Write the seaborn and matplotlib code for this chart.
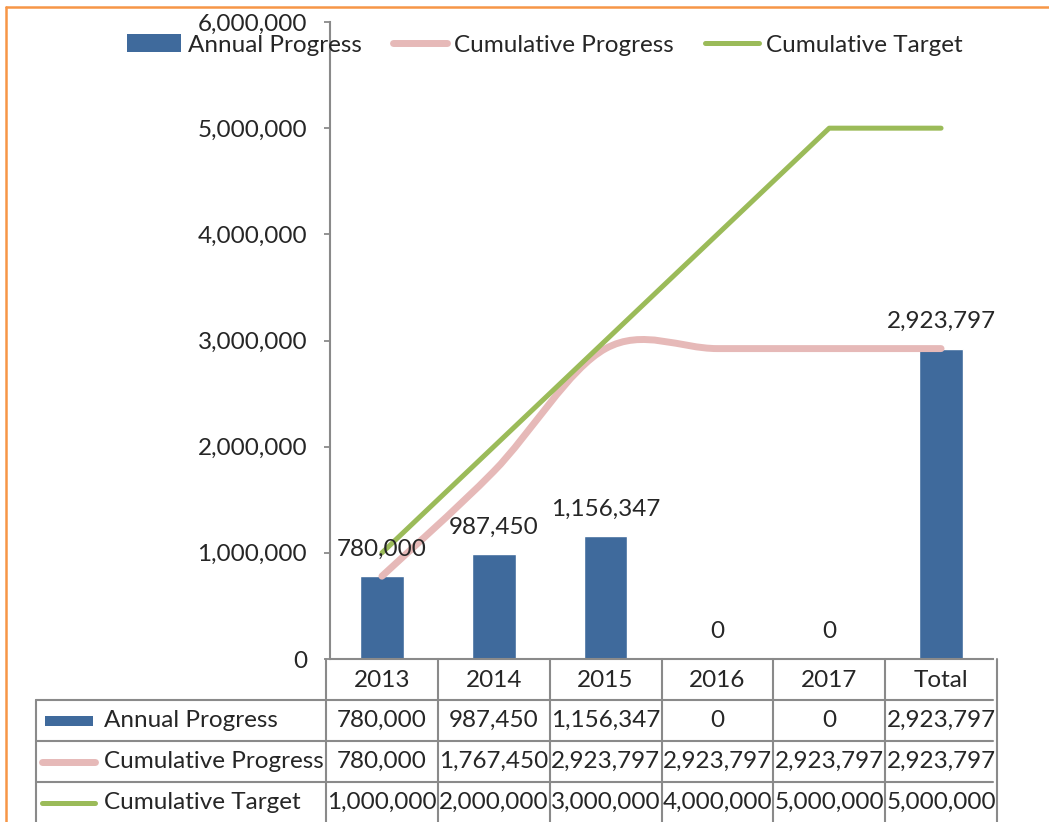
import matplotlib

matplotlib.use("Agg")
import matplotlib.pyplot as plt
import matplotlib.transforms as mtransforms
import numpy as np
import pandas as pd
import seaborn as sns
from matplotlib.lines import Line2D
from matplotlib.patches import Patch, PathPatch, Rectangle
from matplotlib.path import Path
from matplotlib.ticker import FuncFormatter

# данные графика
categories = ["2013", "2014", "2015", "2016", "2017", "Total"]
annual_progress = [780000, 987450, 1156347, 0, 0, 2923797]
cumulative_progress = [780000, 1767450, 2923797, 2923797, 2923797, 2923797]
cumulative_target = [1000000, 2000000, 3000000, 4000000, 5000000, 5000000]
series_names = ["Annual Progress", "Cumulative Progress", "Cumulative Target"]
y_ticks = [0, 1000000, 2000000, 3000000, 4000000, 5000000, 6000000]

BAR_COLOR = "#3F6A9C"
PINK = "#E6B9B8"
GREEN = "#9BBB59"
GRID_GRAY = "#8A8A8A"
FRAME_ORANGE = "#F79646"
W, H = 1049, 822
FONT_SIZE = 17.5

sns.set_theme(style="white")
plt.rcParams["font.family"] = ["Lato", "DejaVu Sans"]
plt.rcParams["font.size"] = FONT_SIZE


def smooth_path(xs, ys):
    # сглаживание как в Excel: кривые Безье через точки
    pts = np.column_stack([xs, ys]).astype(float)
    ext = np.vstack([pts[0], pts, pts[-1]])
    verts = [pts[0]]
    codes = [Path.MOVETO]
    for i in range(len(pts) - 1):
        p0, p1, p2, p3 = ext[i], ext[i + 1], ext[i + 2], ext[i + 3]
        verts += [p1 + (p2 - p0) / 6, p2 - (p3 - p1) / 6, p2]
        codes += [Path.CURVE4] * 3
    return Path(verts, codes)


df = pd.DataFrame({
    "category": categories,
    "annual": annual_progress,
    "cumulative": cumulative_progress,
    "target": cumulative_target,
})

fig = plt.figure(figsize=(W / 100, H / 100), dpi=100)
ax = fig.add_axes([330 / W, 1 - 659 / H, 663 / W, 637 / H])

sns.barplot(data=df, x="category", y="annual", color=BAR_COLOR, saturation=1,
            width=0.39, ax=ax, zorder=2)
positions = np.arange(len(categories))
ax.add_patch(PathPatch(smooth_path(positions, cumulative_progress), fill=False,
                       edgecolor=PINK, lw=5, capstyle="round", zorder=3))
sns.lineplot(data=df, x="category", y="target", color=GREEN, lw=3.6, sort=False,
             ax=ax, zorder=4, solid_capstyle="round")

for cat, v in zip(categories, annual_progress):
    ax.annotate(f"{v:,}", (cat, v), xytext=(0, 19.5), textcoords="offset points",
                ha="center", va="center", fontsize=FONT_SIZE, zorder=6)

ax.set_ylim(0, 6000000)
ax.set_yticks(y_ticks)
ax.yaxis.set_major_formatter(FuncFormatter(lambda v, _: f"{int(v):,}"))
ax.tick_params(axis="y", left=True, length=4.5, width=1.3, color=GRID_GRAY, pad=12,
               labelsize=FONT_SIZE)
ax.tick_params(axis="x", bottom=False, labelbottom=False)
ax.set_xlabel("")
ax.set_ylabel("")
if ax.get_legend():
    ax.get_legend().remove()
for side in ["top", "right"]:
    ax.spines[side].set_visible(False)
for side in ["left", "bottom"]:
    ax.spines[side].set_color(GRID_GRAY)
    ax.spines[side].set_linewidth(1.5)

# таблица данных под графиком (координаты в пикселях сверху-слева)
pix = mtransforms.Affine2D().scale(1 / W, -1 / H).translate(0, 1) + fig.transFigure
col_pix = mtransforms.blended_transform_factory(ax.transData, pix)
axes_pix = mtransforms.blended_transform_factory(ax.transAxes, pix)
row_edges = [659, 700, 741, 782, 823]
left_frac = (36 - 330) / 663

for b in np.arange(-0.5, len(categories)):
    fig.add_artist(Line2D([b, b], [row_edges[0], row_edges[-1]], transform=col_pix,
                          color=GRID_GRAY, lw=1.5))
for y in row_edges[1:]:
    fig.add_artist(Line2D([left_frac, 1], [y, y], transform=axes_pix,
                          color=GRID_GRAY, lw=1.5))
fig.add_artist(Line2D([left_frac, left_frac], [row_edges[1], row_edges[-1]],
                      transform=axes_pix, color=GRID_GRAY, lw=1.5))

for i, cat in enumerate(categories):
    fig.text(i, 680, cat, transform=col_pix, ha="center", va="center", fontsize=FONT_SIZE)

table_rows = [annual_progress, cumulative_progress, cumulative_target]
row_centers = [720.5, 761.5, 802.5]
for name, values, yc in zip(series_names, table_rows, row_centers):
    fig.text(104, yc, name, transform=pix, ha="left", va="center", fontsize=FONT_SIZE)
    for i, v in enumerate(values):
        fig.text(i, yc, f"{v:,}", transform=col_pix, ha="center", va="center",
                 fontsize=FONT_SIZE)

fig.add_artist(Rectangle((45, row_centers[0] - 5), 48, 10, transform=pix,
                         facecolor=BAR_COLOR, edgecolor="none"))
fig.add_artist(Line2D([42, 95], [row_centers[1]] * 2, transform=pix, color=PINK, lw=5,
                      solid_capstyle="round"))
fig.add_artist(Line2D([42, 95], [row_centers[2]] * 2, transform=pix, color=GREEN, lw=3.6,
                      solid_capstyle="round"))

# легенда сверху
handles = [
    Patch(facecolor=BAR_COLOR, edgecolor="none"),
    Line2D([], [], color=PINK, lw=5, solid_capstyle="round"),
    Line2D([], [], color=GREEN, lw=3.6, solid_capstyle="round"),
]
fig.legend(handles, series_names, loc="center", bbox_to_anchor=(545 / W, 1 - 45 / H),
           ncol=3, frameon=False, fontsize=FONT_SIZE, handlelength=2.2,
           handletextpad=0.3, columnspacing=1.3, borderpad=0)

# оранжевая рамка
fig.add_artist(Line2D([6, W], [7, 7], transform=pix, color=FRAME_ORANGE, lw=1.8))
fig.add_artist(Line2D([6, 6], [7, H], transform=pix, color=FRAME_ORANGE, lw=1.8))

fig.savefig("out.png", dpi=100)
